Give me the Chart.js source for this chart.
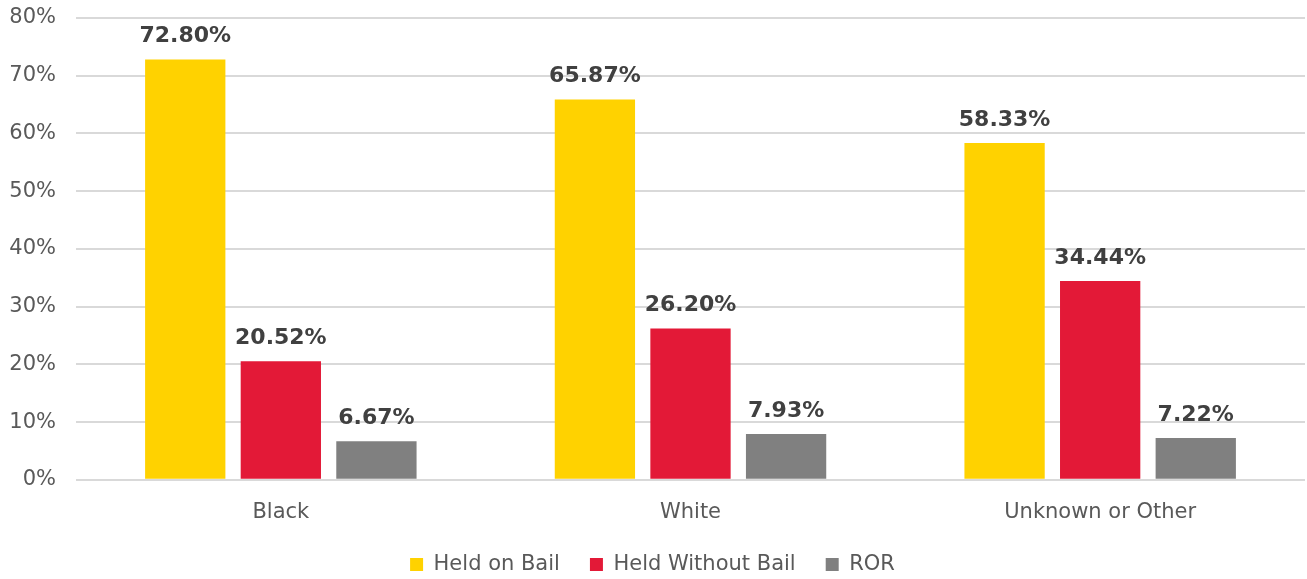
<!DOCTYPE html>
<html><head><meta charset="utf-8">
<script src="https://cdn.jsdelivr.net/npm/chart.js@4/dist/chart.umd.min.js"></script>
<style>html,body{margin:0;padding:0;background:#fff;overflow:hidden}#wrap{width:1307px;height:585px}</style>
</head><body><div id="wrap"><canvas id="c" width="1307" height="585"></canvas></div>
<script>
const categories = ["Black", "White", "Unknown or Other"];
const heldOnBail = [72.80, 65.87, 58.33];
const heldWithoutBail = [20.52, 26.20, 34.44];
const ror = [6.67, 7.93, 7.22];
const seriesNames = ["Held on Bail", "Held Without Bail", "ROR"];
const yTicks = [0, 10, 20, 30, 40, 50, 60, 70, 80];

const FONT = "'DejaVu Sans', sans-serif";

const labelPlugin = {
  id: 'valueLabels',
  afterDatasetsDraw(chart) {
    const ctx = chart.ctx;
    ctx.save();
    ctx.font = "bold 22px " + FONT;
    ctx.fillStyle = '#404040';
    ctx.textAlign = 'center';
    ctx.textBaseline = 'bottom';
    chart.data.datasets.forEach((ds, i) => {
      const meta = chart.getDatasetMeta(i);
      meta.data.forEach((bar, j) => {
        ctx.fillText(ds.data[j].toFixed(2) + '%', bar.x, bar.y - 12);
      });
    });
    ctx.restore();
  }
};

new Chart(document.getElementById('c'), {
  type: 'bar',
  data: {
    labels: categories,
    datasets: [
      { label: seriesNames[0], data: heldOnBail, backgroundColor: '#FFD200' },
      { label: seriesNames[1], data: heldWithoutBail, backgroundColor: '#E31937' },
      { label: seriesNames[2], data: ror, backgroundColor: '#808080' }
    ]
  },
  options: {
    responsive: false,
    animation: false,
    layout: { padding: { top: 18, right: 2, left: 0, bottom: 0 } },
    datasets: { bar: { categoryPercentage: 0.70, barPercentage: 0.84 } },
    scales: {
      x: {
        afterFit(scale) { scale.height += 7; },
        grid: { display: false },
        border: { display: false },
        ticks: { color: '#595959', font: { family: FONT, size: 21 }, padding: 12 }
      },
      y: {
        min: 0, max: 80,
        afterFit(scale) { scale.width = 76; scale.paddingTop = 0; scale.paddingBottom = 0; },
        afterBuildTicks(scale) { scale.ticks = yTicks.map(v => ({ value: v })); },
        grid: { color: '#D9D9D9', lineWidth: 2, drawTicks: false },
        border: { display: false },
        ticks: { color: '#595959', font: { family: FONT, size: 21 }, padding: 20,
                 callback: v => v + '%' }
      }
    },
    plugins: {
      legend: {
        position: 'bottom',
        labels: {
          color: '#595959', font: { family: FONT, size: 21 }, boxWidth: 13, boxHeight: 13, padding: 10,
          generateLabels(chart) {
            const items = Chart.defaults.plugins.legend.labels.generateLabels(chart);
            items.forEach((it, i) => { if (i < items.length - 1) it.text = it.text + '   '; });
            return items;
          }
        }
      },
      tooltip: { enabled: false }
    }
  },
  plugins: [labelPlugin]
});
</script></body></html>
